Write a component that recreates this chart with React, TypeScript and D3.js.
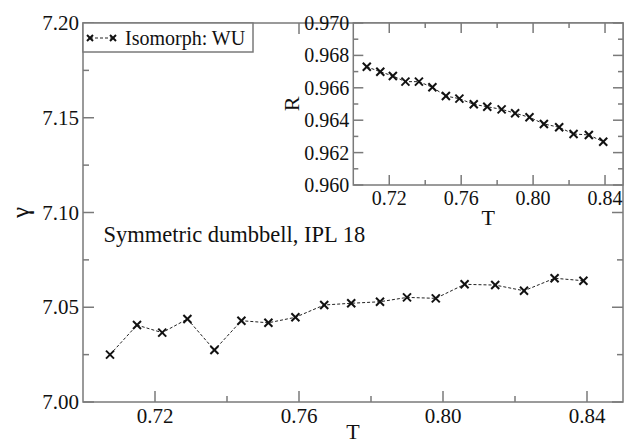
import * as d3 from "d3";

// data
const temps = [0.7075, 0.715, 0.722, 0.729, 0.7365, 0.744, 0.7515, 0.759, 0.767, 0.7745, 0.7825, 0.79, 0.798, 0.806, 0.8145, 0.8225, 0.831, 0.839];
const gammaValues = [7.025, 7.0406, 7.0366, 7.0438, 7.0274, 7.0429, 7.0418, 7.0447, 7.0512, 7.0521, 7.0529, 7.0552, 7.0547, 7.0621, 7.0617, 7.0587, 7.0653, 7.064];
const rValues = [0.9673, 0.96699, 0.96673, 0.96638, 0.96638, 0.96603, 0.96549, 0.96533, 0.96498, 0.96483, 0.96467, 0.96443, 0.96418, 0.96377, 0.96356, 0.96315, 0.96309, 0.96267];

const xMajor = [0.72, 0.76, 0.8, 0.84];
const xMinor = [0.74, 0.78, 0.82];
const gammaMajor = [7.0, 7.05, 7.1, 7.15, 7.2];
const gammaMinor = [7.025, 7.075, 7.125, 7.175];
const rMajor = [0.96, 0.962, 0.964, 0.966, 0.968, 0.97];
const rMinor = [0.961, 0.963, 0.965, 0.967, 0.969];

const W = 625;
const H = 444;
const FONT = "Liberation Serif, DejaVu Serif, serif";
const FRAME = "#7a7a7a";

const MAIN = { left: 83, right: 623, top: 23, bottom: 402 };
const INSET = { left: 353.3, right: 623, top: 23, bottom: 185 };

function Cross({ x, y, s = 4 }: { x: number; y: number; s?: number }) {
  return (
    <g stroke="#111" strokeWidth={2}>
      <line x1={x - s} y1={y - s} x2={x + s} y2={y + s} />
      <line x1={x - s} y1={y + s} x2={x + s} y2={y - s} />
    </g>
  );
}

interface FrameProps {
  box: { left: number; right: number; top: number; bottom: number };
  x: d3.ScaleLinear<number, number>;
  y: d3.ScaleLinear<number, number>;
  yMajor: number[];
  yMinor: number[];
  yFmt: (v: number) => string;
  fontSize: number;
  majLen: number;
  minLen: number;
}

function Frame({ box, x, y, yMajor, yMinor, yFmt, fontSize, majLen, minLen }: FrameProps) {
  const ticks: JSX.Element[] = [];
  const xt = [...xMajor.map((v) => [v, majLen]), ...xMinor.map((v) => [v, minLen])];
  xt.forEach(([v, len], i) => {
    const px = x(v);
    ticks.push(<line key={`xb${i}`} x1={px} x2={px} y1={box.bottom} y2={box.bottom - len} />);
    ticks.push(<line key={`xt${i}`} x1={px} x2={px} y1={box.top} y2={box.top + len} />);
  });
  const yt = [...yMajor.map((v) => [v, majLen]), ...yMinor.map((v) => [v, minLen])];
  yt.forEach(([v, len], i) => {
    const py = y(v);
    ticks.push(<line key={`yl${i}`} x1={box.left} x2={box.left + len} y1={py} y2={py} />);
    ticks.push(<line key={`yr${i}`} x1={box.right} x2={box.right - len} y1={py} y2={py} />);
  });
  return (
    <g>
      <rect
        x={box.left}
        y={box.top}
        width={box.right - box.left}
        height={box.bottom - box.top}
        fill="#fff"
        stroke={FRAME}
        strokeWidth={1.5}
      />
      <g stroke={FRAME} strokeWidth={1.5}>{ticks}</g>
      <g style={{ fontFamily: FONT }} fontSize={fontSize} fill="#111">
        {xMajor.map((v) => (
          <text key={`xl${v}`} x={x(v)} y={box.bottom + fontSize} textAnchor="middle">
            {v.toFixed(2)}
          </text>
        ))}
        {yMajor.map((v) => (
          <text key={`yl${v}`} x={box.left - 4} y={y(v)} textAnchor="end" dominantBaseline="central">
            {yFmt(v)}
          </text>
        ))}
      </g>
    </g>
  );
}

export default function App() {
  const x = d3.scaleLinear().domain([0.7, 0.85]).range([MAIN.left, MAIN.right]);
  const y = d3.scaleLinear().domain([7.0, 7.2]).range([MAIN.bottom, MAIN.top]);
  const xi = d3.scaleLinear().domain([0.7, 0.85]).range([INSET.left, INSET.right]);
  const yi = d3.scaleLinear().domain([0.96, 0.97]).range([INSET.bottom, INSET.top]);

  const mainPts = temps.map((t, i) => [x(t), y(gammaValues[i])] as [number, number]);
  const insetPts = temps.map((t, i) => [xi(t), yi(rValues[i])] as [number, number]);
  const line = d3.line();

  return (
    <svg
      width={W}
      height={H}
      style={{ position: "absolute", left: 0, top: 0, background: "#fff", fontFamily: FONT }}
    >
      <Frame
        box={MAIN}
        x={x}
        y={y}
        yMajor={gammaMajor}
        yMinor={gammaMinor}
        yFmt={(v) => v.toFixed(2)}
        fontSize={21}
        majLen={11}
        minLen={6}
      />
      <path d={line(mainPts) ?? ""} fill="none" stroke="#222" strokeWidth={1} strokeDasharray="3,2" />
      {mainPts.map(([px, py], i) => (
        <Cross key={`m${i}`} x={px} y={py} />
      ))}

      {/* legend */}
      <rect x={MAIN.left} y={MAIN.top} width={170} height={29} fill="#fff" stroke={FRAME} strokeWidth={1.5} />
      <line x1={90} x2={113} y1={38} y2={38} stroke="#222" strokeWidth={1} strokeDasharray="3,2" />
      <Cross x={90} y={38} s={3} />
      <Cross x={113} y={38} s={3} />
      <text x={125} y={45} fontSize={20} fill="#111">
        Isomorph: WU
      </text>

      <text x={103.5} y={242} fontSize={22.5} fill="#111">
        Symmetric dumbbell, IPL 18
      </text>

      {/* axis titles */}
      <text
        transform={`translate(29,${(MAIN.top + MAIN.bottom) / 2}) rotate(-90)`}
        textAnchor="middle"
        fontSize={25}
        fill="#111"
      >
        γ
      </text>
      <text x={(MAIN.left + MAIN.right) / 2} y={439} textAnchor="middle" fontSize={22} fill="#111">
        T
      </text>

      {/* inset */}
      <Frame
        box={INSET}
        x={xi}
        y={yi}
        yMajor={rMajor}
        yMinor={rMinor}
        yFmt={(v) => v.toFixed(3)}
        fontSize={20}
        majLen={10}
        minLen={5}
      />
      <path d={line(insetPts) ?? ""} fill="none" stroke="#222" strokeWidth={1} strokeDasharray="3,2" />
      {insetPts.map(([px, py], i) => (
        <Cross key={`i${i}`} x={px} y={py} />
      ))}
      <text
        transform={`translate(299,${(INSET.top + INSET.bottom) / 2}) rotate(-90)`}
        textAnchor="middle"
        fontSize={22}
        fill="#111"
      >
        R
      </text>
      <text x={(INSET.left + INSET.right) / 2} y={225} textAnchor="middle" fontSize={22} fill="#111">
        T
      </text>
    </svg>
  );
}
